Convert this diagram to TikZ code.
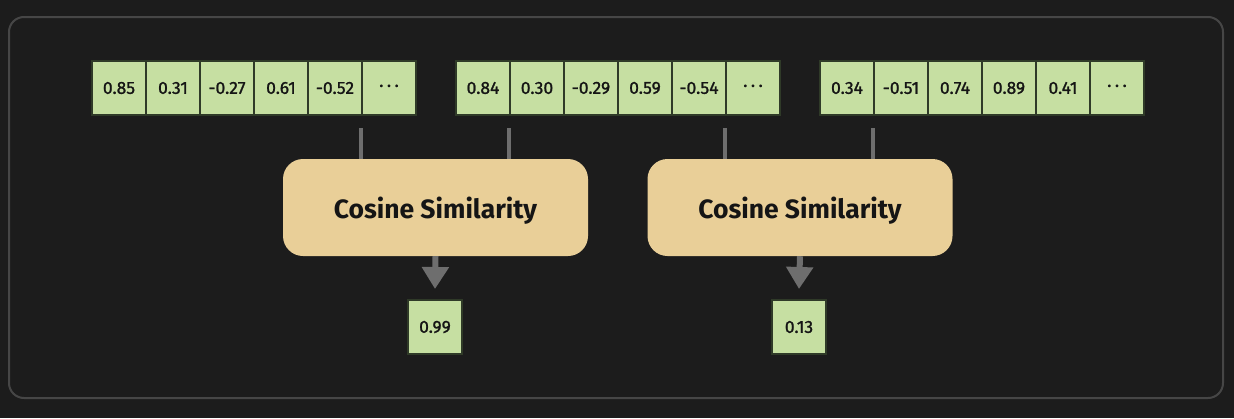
\documentclass[tikz,border=0pt]{standalone}
\usepackage{fontspec}
\setmainfont{Fira Sans}
\newfontfamily\numfont[FakeBold=1.2]{Fira Sans}
\usetikzlibrary{arrows.meta}
\definecolor{bgc}{HTML}{1C1C1C}
\definecolor{framec}{HTML}{464646}
\definecolor{cellc}{HTML}{C6DFA2}
\definecolor{cellb}{HTML}{2F3A28}
\definecolor{cosc}{HTML}{E9CF98}
\definecolor{linec}{HTML}{6E6E6E}
\definecolor{txtc}{HTML}{151515}
\newcommand{\mydots}{\textperiodcentered\hspace{3.5pt}\textperiodcentered\hspace{3.5pt}\textperiodcentered}
\tikzset{
  cell/.style={draw=cellb, line width=2pt, fill=cellc, minimum width=54pt, minimum height=54pt,
    inner sep=0pt, text=txtc, font=\numfont\fontsize{17.5}{20}\selectfont},
  cosbox/.style={fill=cosc, rounded corners=20pt, minimum width=305pt, minimum height=97pt,
    inner sep=0pt, text=txtc, text height=21pt, text depth=0pt, font=\bfseries\fontsize{26.5}{30}\selectfont},
  conn/.style={draw=linec, line width=4pt},
  arr/.style={draw=linec, line width=6pt, -{Triangle[width=26pt,length=22pt]}},
}
\begin{document}
\begin{tikzpicture}[x=1pt,y=-1pt]
\fill[bgc] (0,0) rectangle (1234,418);
\useasboundingbox (0,0) rectangle (1234,418);
\draw[framec, line width=2pt, rounded corners=15pt] (9,17) rectangle (1223,398);
% vectors
\foreach \v [count=\i] in {0.85,0.31,-0.27,0.61,-0.52,\mydots}
  \node[cell] (v1c\i) at ({92+27+54*(\i-1)},88) {\v};
\foreach \v [count=\i] in {0.84,0.30,-0.29,0.59,-0.54,\mydots}
  \node[cell] (v2c\i) at ({456+27+54*(\i-1)},88) {\v};
\foreach \v [count=\i] in {0.34,-0.51,0.74,0.89,0.41,\mydots}
  \node[cell] (v3c\i) at ({820+27+54*(\i-1)},88) {\v};
% cosine boxes
\node[cosbox] (cs1) at (435.5,207.5) {Cosine Similarity};
\node[cosbox] (cs2) at (800,207.5) {Cosine Similarity};
% outputs
\node[cell] (o1) at (435,327) {0.99};
\node[cell] (o2) at (799,327) {0.13};
% connectors
\draw[conn] ([yshift=-12pt]v1c6.south west) -- (v1c6.south west |- cs1.north);
\draw[conn] ([yshift=-12pt]v2c2.south west) -- (v2c2.south west |- cs1.north);
\draw[conn] ([yshift=-12pt]v2c6.south west) -- (v2c6.south west |- cs2.north);
\draw[conn] ([yshift=-12pt]v3c2.south west) -- (v3c2.south west |- cs2.north);
\draw[arr] (cs1.south) -- ([yshift=10pt]o1.north);
\draw[arr] (cs2.south) -- ([yshift=10pt]o2.north);
\end{tikzpicture}
\end{document}
